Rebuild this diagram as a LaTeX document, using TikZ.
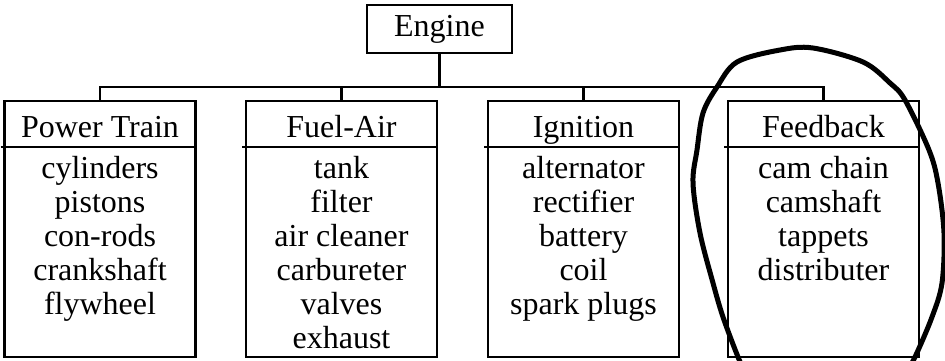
\documentclass[tikz,border=0pt]{standalone}
\usepackage{fontspec}
\setmainfont{Liberation Serif}
\begin{document}
\begin{tikzpicture}[x=1pt,y=-1pt,
  lw/.style={line width=2.7pt},
  catbox/.style={draw,lw,minimum width=191pt,minimum height=256pt,inner sep=0pt},
  topbox/.style={draw,lw,minimum width=145pt,minimum height=48pt,inner sep=0pt,font=\fontsize{32}{34}\selectfont},
  txt/.style={anchor=base,inner sep=0pt,font=\fontsize{32}{34}\selectfont},
  loop/.style={line width=5pt,line cap=round,line join=round}]
\useasboundingbox (0,0) rectangle (945,360);
\fill[white] (0,0) rectangle (945,360);
\coordinate (bus) at (0,87);
\coordinate (hl) at (0,147);
% Engine
\node[topbox] (eng) at (439.5,29) {Engine};
% category boxes
\node[catbox] (pt) at (100,229) {};
\node[catbox] (fa) at (341.5,229) {};
\node[catbox] (ig) at (583.5,229) {};
\node[catbox] (fb) at (823.5,229) {};
% connectors
\draw[lw] (eng.south) -- (eng.south |- bus);
\draw[lw] (pt.north) -- (pt.north |- bus) -- (fb.north |- bus) -- (fb.north);
\draw[lw] (fa.north) -- (fa.north |- bus);
\draw[lw] (ig.north) -- (ig.north |- bus);
% header lines
\foreach \b in {pt,fa,ig,fb}{
  \draw[lw] ([xshift=-2.5pt]\b.west |- hl) -- (\b.east |- hl);
}
% headers
\node[txt] (pth) at (100,137) {Power Train};
\node[txt] (fah) at (341.5,137) {Fuel-Air};
\node[txt] (igh) at (583.5,137) {Ignition};
\node[txt] (fbh) at (823.5,137) {Feedback};
% items
\foreach \t [count=\i] in {cylinders,pistons,con-rods,crankshaft,flywheel}
  \node[txt] (pt\i) at (100,{178+34*(\i-1)}) {\t};
\foreach \t [count=\i] in {tank,filter,air cleaner,carbureter,valves,exhaust}
  \node[txt] (fa\i) at (341.5,{178+34*(\i-1)}) {\t};
\foreach \t [count=\i] in {alternator,rectifier,battery,coil,spark plugs}
  \node[txt] (ig\i) at (583.5,{178+34*(\i-1)}) {\t};
\foreach \t [count=\i] in {cam chain,camshaft,tappets,distributer}
  \node[txt] (fb\i) at (823.5,{178+34*(\i-1)}) {\t};
% hand-drawn loop
\begin{scope}
\clip (0,0) rectangle (945,360);
\draw[loop] plot[smooth,tension=0.55] coordinates {(746,374) (738,357) (723,317) (713,283) (700,233) (693,183) (697,150) (703,113) (717,87) (737,62) (780,50) (813,48) (863,62) (890,83) (905,100) (929,150) (938,183) (944,233) (942,283) (932,317) (915,357) (906,372)};
\end{scope}
\end{tikzpicture}
\end{document}
